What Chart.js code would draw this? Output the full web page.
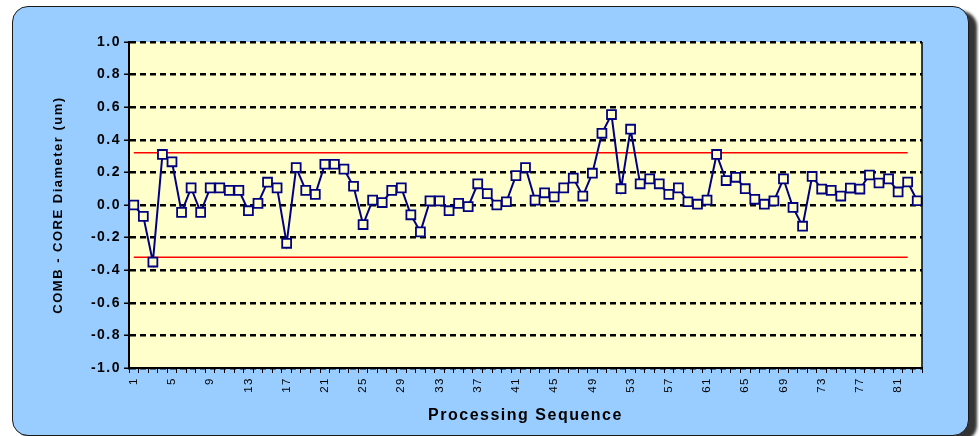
<!DOCTYPE html>
<html>
<head>
<meta charset="utf-8">
<script src="https://cdn.jsdelivr.net/npm/chart.js@4.4.0/dist/chart.umd.min.js"></script>
<style>
  html, body { margin: 0; padding: 0; background: #fff; width: 979px; height: 436px; overflow: hidden; }
  #panel {
    position: absolute; left: 12px; top: 6px; width: 955px; height: 428px;
    background: #99ccff; border: 1px solid #1a1a1a; border-radius: 16px;
    box-shadow: 8px 5px 3px rgba(0, 0, 0, 0.8);
  }
  #wrap { position: absolute; left: 0; top: 0; width: 979px; height: 436px; }
</style>
</head>
<body>
<div id="panel"></div>
<div id="wrap"><canvas id="chart"></canvas></div>
<script>
  // Processing sequence (x categories)
  const sequence = [
    '1','2','3','4','5','6','7','8','9','10','11','12','13','14','15','16','17','18','19','20',
    '21','22','23','24','25','26','27','28','29','30','31','32','33','34','35','36','37','38','39','40',
    '41','42','43','44','45','46','47','48','49','50','51','52','53','54','55','56','57','58','59','60',
    '61','62','63','64','65','66','67','68','69','70','71','72','73','74','75','76','77','78','79','80',
    '81','82','83'
  ];

  // COMB - CORE diameter difference (um)
  const diameterDiff = [
    0.00, -0.07, -0.35, 0.31, 0.265, -0.045, 0.105, -0.045, 0.105, 0.105,
    0.09, 0.09, -0.035, 0.01, 0.14, 0.105, -0.235, 0.23, 0.09, 0.065,
    0.25, 0.25, 0.22, 0.115, -0.12, 0.03, 0.015, 0.09, 0.105, -0.06,
    -0.165, 0.025, 0.025, -0.035, 0.01, -0.01, 0.13, 0.07, 0.00, 0.02,
    0.18, 0.23, 0.03, 0.075, 0.05, 0.105, 0.165, 0.055, 0.195, 0.44,
    0.555, 0.10, 0.465, 0.13, 0.16, 0.13, 0.065, 0.105, 0.02, 0.005,
    0.03, 0.31, 0.15, 0.17, 0.10, 0.035, 0.005, 0.025, 0.16, -0.015,
    -0.13, 0.175, 0.098, 0.09, 0.055, 0.104, 0.098, 0.184, 0.135, 0.16,
    0.08, 0.141, 0.026
  ];

  // control limits, drawn from first to 82nd sample
  const upperLimit = 0.32;
  const lowerLimit = -0.32;
  const limitSpan = ['1', '82'];

  // y axis ticks
  const yMin = -1.0;
  const yMax = 1.0;
  const yStep = 0.2;

  const FONT = "'Liberation Sans', Arial, sans-serif";

  // Excel-like plot area fill, right border and wide text spacing
  const plotFrame = {
    id: 'plotFrame',
    beforeLayout(chart) {
      chart.ctx.letterSpacing = '1.5px';
    },
    beforeDraw(chart) {
      const { ctx, chartArea: a } = chart;
      ctx.letterSpacing = '1.5px';
      ctx.save();
      ctx.fillStyle = '#ffffcc';
      ctx.fillRect(a.left, a.top, a.right - a.left, a.bottom - a.top);
      ctx.restore();
    },
    afterDraw(chart) {
      const { ctx, chartArea: a } = chart;
      ctx.save();
      ctx.strokeStyle = '#000';
      ctx.lineWidth = 1.5;
      ctx.beginPath();
      ctx.moveTo(a.right, a.top);
      ctx.lineTo(a.right, a.bottom);
      ctx.stroke();
      ctx.restore();
    }
  };

  new Chart(document.getElementById('chart'), {
    type: 'line',
    data: {
      labels: sequence,
      datasets: [
        {
          data: diameterDiff,
          borderColor: '#000080',
          borderWidth: 2,
          tension: 0,
          pointStyle: 'rect',
          pointRadius: 6.3,
          pointBorderWidth: 1.8,
          pointBackgroundColor: '#ffffcc',
          pointBorderColor: '#000080'
        },
        {
          data: [{ x: limitSpan[0], y: upperLimit }, { x: limitSpan[1], y: upperLimit }],
          borderColor: '#ff0000',
          borderWidth: 1.5,
          pointRadius: 0
        },
        {
          data: [{ x: limitSpan[0], y: lowerLimit }, { x: limitSpan[1], y: lowerLimit }],
          borderColor: '#ff0000',
          borderWidth: 1.5,
          pointRadius: 0
        }
      ]
    },
    options: {
      responsive: true,
      maintainAspectRatio: false,
      animation: false,
      devicePixelRatio: 1,
      layout: {
        padding: { left: 47, right: 57, top: 42, bottom: 7 }
      },
      plugins: {
        legend: { display: false },
        tooltip: { enabled: false }
      },
      scales: {
        x: {
          offset: true,
          afterFit: function(scale) { scale.height = 61; },
          grid: {
            offset: true,
            drawOnChartArea: false,
            drawTicks: true,
            tickLength: 5,
            tickColor: '#000',
            tickWidth: 1
          },
          border: { color: '#000', width: 2 },
          ticks: {
            autoSkip: false,
            minRotation: 90,
            maxRotation: 90,
            padding: 4,
            color: '#000',
            font: { family: FONT, size: 11.5 },
            callback: function(value, index) {
              return index % 4 === 0 ? this.getLabelForValue(value) : '';
            }
          },
          title: {
            display: true,
            text: 'Processing Sequence',
            color: '#000',
            font: { family: FONT, size: 16, weight: 'bold' },
            padding: { top: 2, bottom: 4 }
          }
        },
        y: {
          min: yMin,
          max: yMax,
          afterFit: function(scale) { scale.width = 82; },
          grid: {
            color: '#000',
            lineWidth: 2.5,
            tickLength: 5,
            tickColor: '#000',
            tickWidth: 1.5,
            tickBorderDash: []
          },
          border: { color: '#000', width: 2, dash: [6, 4] },
          ticks: {
            stepSize: yStep,
            padding: 3,
            color: '#000',
            font: { family: FONT, size: 14, weight: 'bold' },
            callback: function(value) {
              return Math.abs(value) < 1e-9 ? '0.0' : value.toFixed(1);
            }
          },
          title: {
            display: true,
            text: 'COMB - CORE Diameter (um)',
            color: '#000',
            font: { family: FONT, size: 13, weight: 'bold' },
            padding: { top: 4, bottom: 4 }
          }
        }
      }
    },
    plugins: [plotFrame]
  });
</script>
</body>
</html>
